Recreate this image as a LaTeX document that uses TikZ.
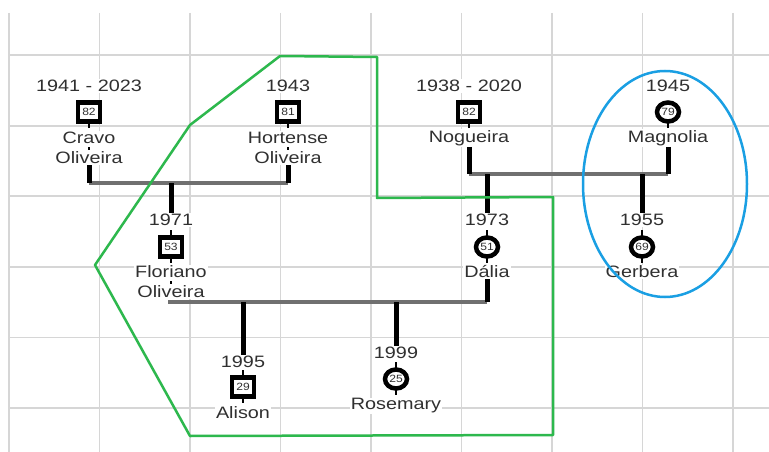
\documentclass[tikz,border=0pt]{standalone}
\usepackage{graphicx}
\usepackage{fontspec}
\setmainfont{Liberation Sans}
\usetikzlibrary{shapes.geometric}
\definecolor{gridc}{HTML}{D6D6D6}
\definecolor{barc}{HTML}{707070}
\definecolor{txtc}{HTML}{303030}
\definecolor{grn}{HTML}{2DB84D}
\definecolor{blu}{HTML}{1A9FE3}
\newcommand\tx[1]{\scalebox{1.2}[1]{#1}}
\newcommand\nx[1]{\scalebox{1.15}[1]{#1}}
\tikzset{
  lbl/.style={fill=white,inner sep=1pt,text=txtc,align=center,
    font=\fontsize{16.5}{20}\selectfont},
  male/.style={draw=black,line width=4.5pt,fill=white,rectangle,
    minimum width=22pt,minimum height=19pt,inner sep=0pt,
    font=\fontsize{10.5}{10.5}\selectfont,text=txtc},
  female/.style={draw=black,line width=4.5pt,fill=white,ellipse,
    minimum width=22pt,minimum height=19pt,inner sep=0pt,
    font=\fontsize{10.5}{10.5}\selectfont,text=txtc},
  kin/.style={draw=black,line width=5pt},
  bar/.style={draw=barc,line width=4pt},
  stub/.style={draw=black,line width=2pt},
  gridl/.style={draw=gridc,line width=1.8pt},
}
\begin{document}
\begin{tikzpicture}[x=1pt,y=-1pt]
\useasboundingbox (0,0) rectangle (769,452);
\fill[white] (0,0) rectangle (769,452);
% grid
\foreach \i in {0,...,8} \draw[gridl] (9+90.5*\i,13) -- (9+90.5*\i,452);
\foreach \j in {0,...,5} \draw[gridl] (9,55+70.6*\j) -- (769,55+70.6*\j);

% bar coordinates
\coordinate (b1a) at (89,183); \coordinate (b1b) at (288,183); \coordinate (b1c) at (171,183);
\coordinate (b2a) at (469,174); \coordinate (b2b) at (668,174);
\coordinate (b2c) at (487,174); \coordinate (b2d) at (642,174);
\coordinate (b3a) at (168,302); \coordinate (b3b) at (487,302);
\coordinate (b3c) at (243,302); \coordinate (b3d) at (396,302);

% stubs (drawn first, under symbols)
\foreach \x/\ya/\yb in {89/112/128, 288/112/128, 469/112/128, 668/112/128,
  171/230/263, 487/230/263, 642/230/263, 243/370/403, 396/362/395}
  \draw[stub] (\x,\ya) -- (\x,\yb);

% people
\node[lbl] (cY) at (89,86) {\tx{1941 - 2023}};
\node[male] (c) at (89,112) {\nx{82}};
\node[lbl] (cN) at (89,148) {\tx{Cravo}\\\tx{Oliveira}};

\node[lbl] (hY) at (288,86) {\tx{1943}};
\node[male] (h) at (288,112) {\nx{81}};
\node[lbl] (hN) at (288,148) {\tx{Hortense}\\\tx{Oliveira}};

\node[lbl] (nY) at (469,86) {\tx{1938 - 2020}};
\node[male] (n) at (469,112) {\nx{82}};
\node[lbl] (nN) at (469,138) {\tx{Nogueira}};

\node[lbl] (mY) at (668,86) {\tx{1945}};
\node[female] (m) at (668,112) {\nx{79}};
\node[lbl] (mN) at (668,138) {\tx{Magnolia}};

\node[lbl] (fY) at (171,220) {\tx{1971}};
\node[male] (f) at (171,247) {\nx{53}};
\node[lbl] (fN) at (171,282) {\tx{Floriano}\\\tx{Oliveira}};

\node[lbl] (dY) at (487,220) {\tx{1973}};
\node[female] (d) at (487,247) {\nx{51}};
\node[lbl] (dN) at (487,272) {\tx{Dália}};

\node[lbl] (gY) at (642,220) {\tx{1955}};
\node[female] (g) at (642,247) {\nx{69}};
\node[lbl] (gN) at (642,272) {\tx{Gerbera}};

\node[lbl] (aY) at (243,362) {\tx{1995}};
\node[male] (a) at (243,387) {\nx{29}};
\node[lbl] (aN) at (243,413) {\tx{Alison}};

\node[lbl] (rY) at (396,353) {\tx{1999}};
\node[female] (r) at (396,379) {\nx{25}};
\node[lbl] (rN) at (396,406) {\tx{Rosemary}};

% small dashes between two-line names
\foreach \p in {cN,hN,fN} \draw[stub] ([yshift=-1.5pt]\p.center) -- ([yshift=1.5pt]\p.center);

% couple bars
\draw[bar] (b1a) -- (b1b);
\draw[bar] (b2a) -- (b2b);
\draw[bar] (b3a) -- (b3b);

% connectors
\draw[kin] (cN) -- (b1a);
\draw[kin] (hN) -- (b1b);
\draw[kin] (b1c) -- (fY);
\draw[kin] (nN) -- (b2a);
\draw[kin] (mN) -- (b2b);
\draw[kin] (b2c) -- (dY);
\draw[kin] (b2d) -- (gY);
\draw[kin] (dN) -- (b3b);
\draw[kin] (b3c) -- (aY);
\draw[kin] (b3d) -- (rY);

% highlight shapes
\draw[grn,line width=2.5pt,line join=round]
  (280,56) -- (377,57) -- (377,198) -- (553,197) -- (553,435) -- (190,436)
  -- (95,265) -- (190,125) -- cycle;
\draw[blu,line width=2.5pt] (665,184) ellipse [x radius=82pt, y radius=113pt];
\end{tikzpicture}
\end{document}
